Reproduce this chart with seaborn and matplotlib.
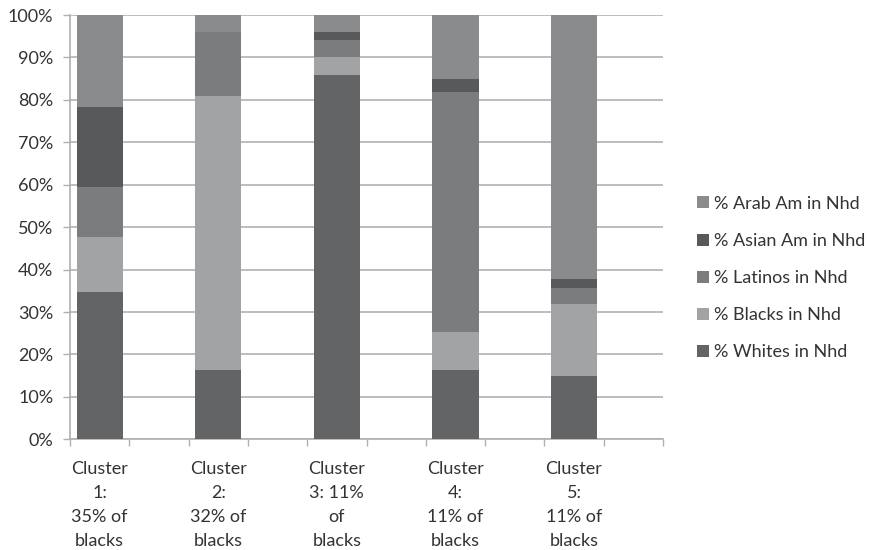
import numpy as np
import pandas as pd
import matplotlib
matplotlib.use("Agg")
import matplotlib.pyplot as plt
from matplotlib.patches import Patch
import seaborn as sns

# Share of each group in the neighbourhoods of each cluster (percent)
clusters = ["Cluster\n1:\n35% of\nblacks", "Cluster\n2:\n32% of\nblacks",
            "Cluster\n3: 11%\nof\nblacks", "Cluster\n4:\n11% of\nblacks",
            "Cluster\n5:\n11% of\nblacks"]
whites = [34.6, 16.3, 85.9, 16.3, 14.9]
blacks = [13.0, 64.6, 4.1, 9.1, 16.9]
latinos = [11.9, 15.0, 4.1, 56.5, 3.9]
asian_am = [18.7, 0.0, 1.8, 2.9, 2.1]
arab_am = [21.8, 4.1, 4.1, 15.2, 62.2]

series_names = ["% Whites in Nhd", "% Blacks in Nhd", "% Latinos in Nhd",
                "% Asian Am in Nhd", "% Arab Am in Nhd"]
series_values = [whites, blacks, latinos, asian_am, arab_am]
series_colors = ["#636466", "#a2a3a5", "#7b7c7e", "#58595b", "#8a8b8d"]

sns.set_theme(style="white")
plt.rcParams["font.family"] = ["Lato", "DejaVu Sans"]
text_color = "#333333"

fig = plt.figure(figsize=(8.69, 5.5), dpi=100)
ax = fig.add_axes([70 / 869, 1 - 439.3 / 550, (663 - 70) / 869, (439.3 - 15) / 550])

# Stack by drawing cumulative totals from the top segment down
cum = np.cumsum(np.array(series_values), axis=0)
df = pd.DataFrame({"cluster": clusters})
for k in range(len(series_names) - 1, -1, -1):
    df["total"] = cum[k]
    sns.barplot(data=df, x="cluster", y="total", color=series_colors[k],
                width=0.39, saturation=1, linewidth=0, ax=ax, zorder=3)

ax.set_xlim(-0.25, 4.75)
ax.set_ylim(0, 100)
ax.set_xlabel("")
ax.set_ylabel("")

# Y axis: percentage ticks with light gridlines
ax.set_yticks(np.arange(0, 101, 10))
ax.set_yticklabels([f"{v}%" for v in range(0, 101, 10)])
ax.yaxis.grid(True, color="#bdbdbd", linewidth=1.4, zorder=0)
ax.set_axisbelow(True)

# X axis: tick marks at slot boundaries, labels centred under the bars
ax.set_xticks(np.arange(-0.25, 4.76, 0.5))
ax.set_xticklabels([])
ax.set_xticks(range(len(clusters)), minor=True)
ax.set_xticklabels(clusters, minor=True, linespacing=1.62)
ax.tick_params(axis="x", which="major", direction="out", length=5, width=1,
               color="#b0b0b0", bottom=True)
ax.tick_params(axis="x", which="minor", length=0, pad=15.5, labelsize=13,
               labelcolor=text_color)
ax.tick_params(axis="y", which="major", direction="out", length=5, width=1,
               color="#b0b0b0", left=True, labelsize=13, labelcolor=text_color,
               pad=7)

for side in ["top", "right"]:
    ax.spines[side].set_visible(False)
for side in ["left", "bottom"]:
    ax.spines[side].set_color("#b0b0b0")
    ax.spines[side].set_linewidth(1.2)

handles = [Patch(facecolor=series_colors[k], edgecolor="none", label=series_names[k])
           for k in range(len(series_names) - 1, -1, -1)]
fig.legend(handles=handles, loc="center left", bbox_to_anchor=(688 / 869, 1 - 278 / 550),
           frameon=False, fontsize=13, handlelength=0.65, handleheight=0.65,
           handletextpad=0.3, labelspacing=1.17, borderpad=0, labelcolor=text_color)

fig.savefig("out.png", dpi=100)
